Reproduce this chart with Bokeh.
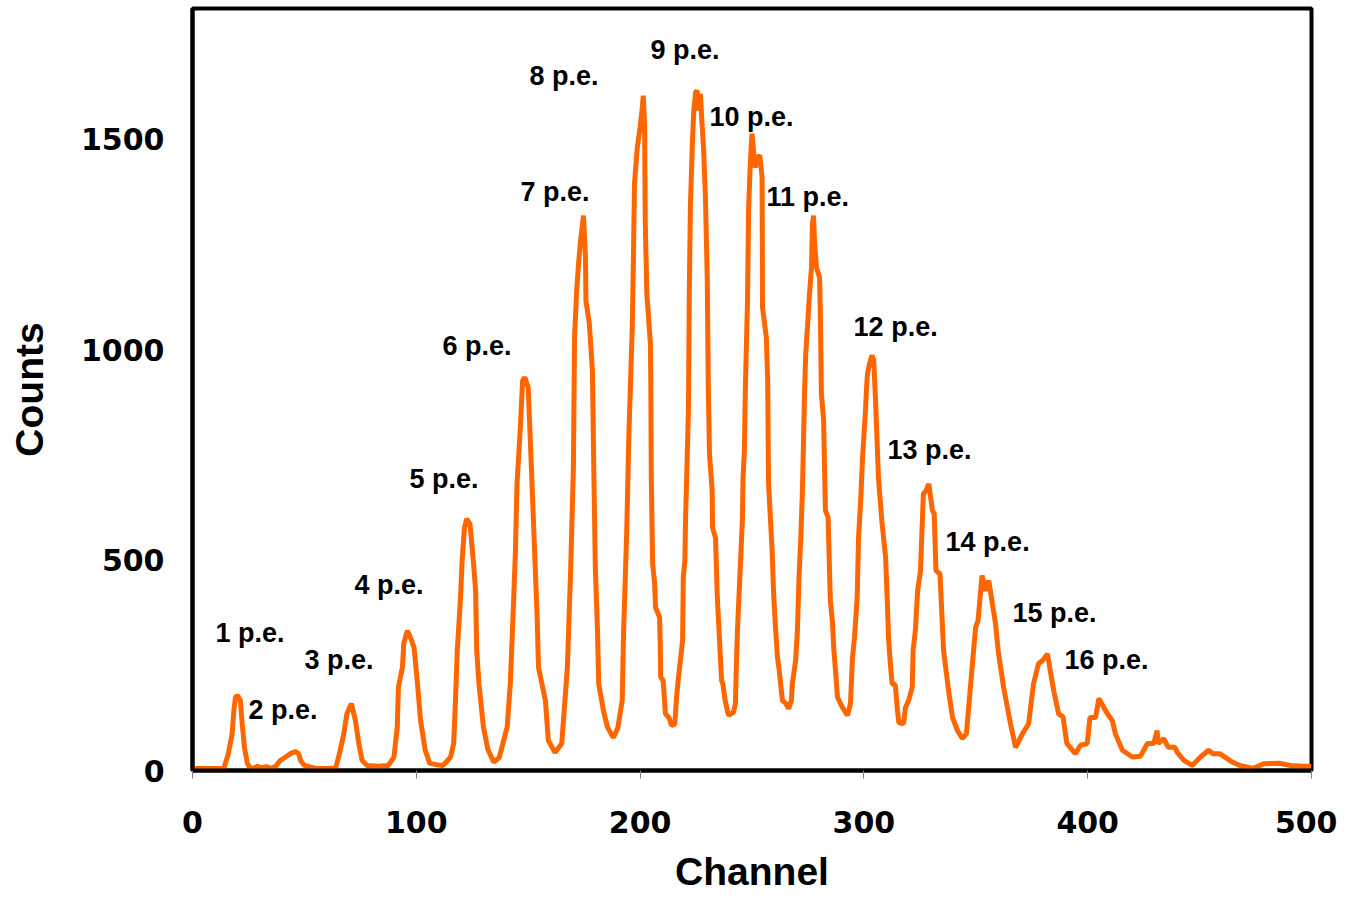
from bokeh.plotting import figure
from bokeh.models import Range1d, FixedTicker, ColumnDataSource
from bokeh.core.properties import value
from bokeh.embed import file_html
from bokeh.resources import INLINE

# Spectrum: (channel, counts)
channel = [
    0, 14, 16, 17.7, 18.5, 19.2, 20.2, 21.4, 22.2, 23.2, 24.5, 25.5, 27, 29, 31, 33, 35, 37,
    39.3, 41.6, 43.8, 46, 47.4, 48.3, 50, 55, 60, 64, 66, 67.6, 69, 71, 72.8, 74.3, 75.8, 78,
    83, 87.5, 90, 91.5, 92, 93.8, 94.4, 96, 97.4, 99, 100.4, 101.9, 104, 106, 109, 112,
    115.3, 116.7, 117.5, 118.3, 119.7, 120.5, 121.5, 122.5, 124, 125.6, 126.5, 127, 128, 130,
    132, 134.6, 137, 140.6, 142, 143.5, 144.3, 145, 146.5, 147.5, 148.5, 150, 151, 152, 154,
    154.6, 157.7, 159, 162, 165, 167.5, 169, 170.2, 170.7, 171.6, 172.5, 173.4, 174.7, 175.6,
    175.8, 177.3, 178.7, 179.3, 180, 181, 181.5, 183.6, 185.4, 188, 190, 192, 192.6, 194, 195,
    196.5, 197, 197.5, 198.7, 200, 201, 201.4, 202, 202.3, 203, 204.6, 204.8, 205, 205.6,
    206.5, 206.9, 208.7, 209, 209.2, 210.3, 211.3, 213, 214, 215.5, 216.3, 217, 218, 219,
    219.3, 220, 220.3, 221, 221.6, 222, 222.5, 223.4, 224, 224.8, 225.5, 226, 227, 227.4,
    228.4, 229.2, 230, 230.5, 231, 232.2, 232.4, 233.7, 234.5, 235.5, 236.4, 237, 238, 239.5,
    241.7, 242.6, 243, 243.5, 244.9, 245.7, 246, 246.6, 247, 248, 248.5, 249.3, 250, 250.8,
    251.5, 252.4, 253.5, 254.5, 254.7, 256.4, 257, 257.4, 259, 259.6, 260.5, 261.4, 262,
    263.6, 265, 266.4, 267.6, 268, 269.5, 270.3, 271, 271.7, 272.5, 273, 273.5, 274, 274.8,
    275.7, 276.6, 277, 277.5, 278, 278.8, 280.2, 280.6, 281, 282, 282.8, 284, 285, 286,
    286.5, 287.3, 288.2, 290.4, 292.7, 294, 294.9, 295.8, 297, 297.6, 298.5, 299.4, 300.7,
    301.2, 301.6, 302.5, 303.6, 304.4, 305.2, 306.5, 308, 309.7, 310.5, 311, 311.8, 312.6,
    314, 315, 315.6, 317.7, 318.6, 320, 321.6, 322, 323, 324, 325.3, 326, 326.6, 327.8, 329,
    330.6, 331.4, 332.2, 334, 335.6, 338, 339.6, 341.8, 344, 345.8, 347.6, 349.9, 351,
    352.8, 354.3, 355.8, 358.8, 360, 362.4, 365.5, 367.8, 370.8, 373.6, 375.8, 378, 379.8,
    382, 384.8, 387, 389, 390.7, 394.5, 396.8, 399.8, 401, 403.5, 405, 408.8, 411, 412.4,
    415.5, 420, 423.6, 426.6, 429.5, 431, 431.5, 434, 436, 439, 440, 443, 446.7, 450.4, 454,
    456, 459, 461, 464.6, 468, 474, 478.6, 486, 490.6, 496, 500,
]
counts = [
    5, 5, 40, 87, 143, 174, 178, 166, 111, 55, 17, 8, 5, 10, 6, 9, 5, 9,
    24, 32, 40, 45, 40, 24, 12, 5, 5, 6, 48, 87, 135, 159, 119, 64, 24, 12,
    10, 12, 32, 103, 198, 245, 302, 332, 316, 292, 214, 119, 48, 17, 14, 12,
    32, 64, 166, 285, 404, 500, 575, 598, 585, 491, 427, 285, 206, 103,
    50, 20, 30, 103, 206, 404, 522, 681, 815, 926, 934, 910, 777, 641, 364,
    245, 166, 71, 43, 64, 245, 482, 720, 1029, 1133, 1204, 1259, 1318, 1219,
    1116, 1062, 950, 720, 482, 325, 206, 143, 103, 78, 100, 166, 325, 563, 800,
    1053, 1211, 1394, 1477, 1528, 1575, 1603, 1536, 1306, 1133, 1014, 919, 696, 491,
    444, 387, 364, 302, 222, 214, 135, 125, 107, 110, 174, 214, 261, 309,
    458, 499, 594, 736, 855, 1147, 1346, 1496, 1568, 1611, 1615, 1568, 1607, 1561,
    1473, 1361, 1171, 900, 753, 665, 577, 553, 411, 309, 214, 205, 166, 131,
    138, 159, 245, 333, 499, 594, 696, 760, 900, 1116, 1337, 1449, 1513, 1466,
    1432, 1456, 1461, 1409, 1100, 1029, 926, 681, 522, 427, 340, 268, 245,
    166, 160, 147, 166, 206, 261, 333, 458, 539, 657, 777, 900, 990, 1053,
    1133, 1195, 1299, 1318, 1252, 1195, 1171, 1069, 895, 831, 618, 601, 404, 349,
    292, 238, 174, 150, 131, 159, 268, 316, 411, 553, 634, 743, 855,
    910, 943, 966, 986, 975, 880, 696, 594, 506, 397, 316, 254, 206,
    204, 143, 114, 111, 150, 166, 198, 285, 333, 427, 475, 577, 657, 665, 681,
    618, 610, 475, 467, 285, 183, 126, 95, 76, 87, 198, 340, 356,
    463, 427, 451, 349, 285, 198, 111, 55, 87, 111, 206, 254, 261,
    277, 190, 135, 127, 64, 40, 60, 64, 126, 126, 171, 135, 119, 87,
    48, 32, 34, 64, 64, 95, 64, 76, 55, 55, 43, 24, 12, 32, 48,
    40, 40, 33, 20, 12, 5, 16, 17, 12, 10, 10,
]

# Peak labels and their anchor (left, baseline) in data units
labels = ["1 p.e.", "2 p.e.", "3 p.e.", "4 p.e.", "5 p.e.", "6 p.e.", "7 p.e.", "8 p.e.",
          "9 p.e.", "10 p.e.", "11 p.e.", "12 p.e.", "13 p.e.", "14 p.e.", "15 p.e.", "16 p.e."]
label_x = [10.3, 25.0, 50.0, 72.4, 97.0, 111.7, 146.6, 150.6,
           204.6, 231.0, 256.5, 295.4, 310.5, 336.5, 366.4, 389.6]
label_y = [327, 144, 263, 441, 693, 1008, 1375, 1650,
           1712, 1553, 1363, 1054, 762, 543, 375, 263]

x_ticks = [0, 100, 200, 300, 400, 500]
y_ticks = [0, 500, 1000, 1500]

p = figure(width=1337, height=896, output_backend="svg", toolbar_location=None,
           x_range=Range1d(0, 500), y_range=Range1d(0, 1810),
           min_border_left=192, min_border_right=26, min_border_top=8, min_border_bottom=126)

p.background_fill_color = "white"
p.border_fill_color = "white"
p.outline_line_color = "black"
p.outline_line_width = 4
p.xgrid.visible = False
p.ygrid.visible = False

p.line(channel, counts, line_color="#FF6600", line_width=5)

src = ColumnDataSource(dict(x=label_x, y=label_y, t=labels))
p.text(x="x", y="y", text="t", source=src, text_font=value("Liberation Sans"),
       text_font_style="bold", text_font_size="27px", text_color="black",
       text_align="left", text_baseline="alphabetic")

p.xaxis.ticker = FixedTicker(ticks=x_ticks)
p.yaxis.ticker = FixedTicker(ticks=y_ticks)
for ax in (p.xaxis[0], p.yaxis[0]):
    ax.axis_line_color = "black"
    ax.axis_line_width = 4
    ax.minor_tick_line_color = None
    ax.major_label_text_font = "DejaVu Sans"
    ax.major_label_text_font_style = "bold"
    ax.major_label_text_font_size = "30px"
    ax.major_label_text_color = "black"
    ax.axis_label_text_font = "Liberation Sans"
    ax.axis_label_text_font_style = "bold"
    ax.axis_label_text_font_size = "39px"
    ax.axis_label_text_color = "black"

p.xaxis.major_tick_line_color = "#808080"
p.xaxis.major_tick_line_width = 1
p.xaxis.major_tick_out = 8
p.xaxis.major_tick_in = 0
p.xaxis.major_label_standoff = 32
p.xaxis.axis_label = "Channel"
p.xaxis.axis_label_standoff = 14

p.yaxis.major_tick_line_color = None
p.yaxis.major_tick_out = 0
p.yaxis.major_tick_in = 0
p.yaxis.major_label_standoff = 28
p.yaxis.axis_label = "Counts"
p.yaxis.axis_label_standoff = 27

open("out.html", "w").write(file_html(p, INLINE))
